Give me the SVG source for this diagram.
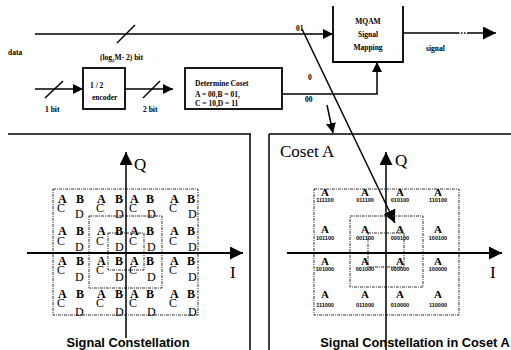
<svg xmlns="http://www.w3.org/2000/svg" width="511" height="350" viewBox="0 0 511 350">
<defs>
<marker id="ah" viewBox="0 0 10 10" refX="10" refY="5" markerWidth="10" markerHeight="10" markerUnits="userSpaceOnUse" orient="auto"><path d="M0,0 L10,5 L0,10 z" fill="#000"/></marker>
<marker id="ahb" viewBox="0 0 10 10" refX="10" refY="5" markerWidth="13" markerHeight="13" markerUnits="userSpaceOnUse" orient="auto"><path d="M0,0 L10,5 L0,10 z" fill="#000"/></marker>
<style>
.ln{stroke:#000;stroke-width:1.5;fill:none}
.thk{stroke:#000;stroke-width:2.2;fill:none}
.box{stroke:#000;stroke-width:1.8;fill:#fff}
.dash{stroke:#333;stroke-width:1;fill:none;stroke-dasharray:3 1 1 1}
.t{font-family:"Liberation Serif",serif;font-weight:bold;font-size:7.5px;fill:#000}
.tc{font-family:"Liberation Serif",serif;font-weight:bold;font-size:7.5px;fill:#000;text-anchor:middle}
.ab{font-family:"Liberation Serif",serif;font-weight:bold;font-size:12px;fill:#000}
.cd{font-family:"Liberation Serif",serif;font-size:12px;fill:#000}
.aa{font-family:"Liberation Serif",serif;font-weight:bold;font-size:11px;fill:#000;text-anchor:middle}
.code{font-family:"Liberation Sans",sans-serif;font-weight:bold;font-size:5.5px;fill:#000;text-anchor:middle}
.ax{font-family:"Liberation Serif",serif;font-size:17px;fill:#000}
.ttl{font-family:"Liberation Sans",sans-serif;font-weight:bold;font-size:12.8px;fill:#000;text-anchor:middle}
</style>
</defs>

<g id="connectors">
<line class="ln" x1="35" y1="34" x2="333" y2="34" marker-end="url(#ah)"/>
<line class="ln" x1="117" y1="43" x2="135" y2="25"/>
<line class="ln" x1="35" y1="89" x2="83" y2="89" marker-end="url(#ah)"/>
<line class="ln" x1="45" y1="98" x2="63" y2="81"/>
<line class="ln" x1="125" y1="89" x2="173" y2="89" marker-end="url(#ah)"/>
<line class="ln" x1="143" y1="98" x2="160" y2="81"/>
<polyline class="ln" points="282,94 377,94 377,62" marker-end="url(#ah)"/>
<line class="ln" x1="403" y1="33" x2="458" y2="33"/>
<line class="ln" x1="458" y1="33" x2="468" y2="33" stroke-dasharray="1.5 1.5"/>
<line class="ln" x1="468" y1="33" x2="496" y2="33" marker-end="url(#ahb)"/>
<line class="ln" x1="302" y1="29" x2="395" y2="223" marker-end="url(#ahb)"/>
<line class="ln" x1="327" y1="105" x2="333" y2="133" marker-end="url(#ah)"/>
</g>

<g id="labels-top">
<text class="t" x="8" y="55">data</text>
<text class="t" x="100" y="60">(log<tspan font-size="5" dy="2">2</tspan><tspan dy="-2">M- 2) bit</tspan></text>
<text class="t" x="45" y="112">1 bit</text>
<text class="t" x="143" y="112">2 bit</text>
<text class="t" x="296" y="31">01</text>
<text class="t" x="308" y="80" font-size="6">0</text>
<text class="t" x="305" y="102">00</text>
<text class="t" x="426" y="51">signal</text>
</g>

<g id="node-encoder">
<rect class="box" x="83" y="68" width="42" height="41"/>
<text class="t" x="90" y="88" font-size="8.5px">1 / 2</text>
<text class="t" x="92" y="100">encoder</text>
</g>

<g id="node-coset">
<rect class="box" x="185" y="68" width="97" height="41"/>
<text class="t" x="195" y="86" font-size="6.5px">Determine Coset</text>
<text class="t" x="195" y="97" font-size="6.5px">A = 00,B = 01,</text>
<text class="t" x="195" y="106" font-size="6.5px">C = 10,D = 11</text>
</g>

<g id="node-mqam">
<path class="box" d="M333,6 L333,62 L403,62 L403,6"/>
<text class="tc" x="368" y="24">MQAM</text>
<text class="tc" x="368" y="37">Signal</text>
<text class="tc" x="368" y="50">Mapping</text>
</g>

<g id="panel-left">
<line class="ln" x1="8" y1="134" x2="251" y2="134"/>
<line class="ln" x1="250" y1="134" x2="250" y2="350"/>
<rect class="dash" x="53" y="189" width="145" height="126"/>
<rect class="dash" x="89" y="216" width="73" height="72"/>
<rect class="dash" x="108" y="233" width="36" height="37"/>
<line class="ln" x1="126" y1="338" x2="126" y2="152" marker-end="url(#ahb)"/>
<line class="thk" x1="27" y1="253" x2="243" y2="253" marker-end="url(#ahb)"/>
<text class="ax" x="134" y="170">Q</text>
<text class="ax" x="230" y="278">I</text>
<g>
<text class="ab" x="58" y="203">A</text><text class="ab" x="76" y="203">B</text><text class="ab" x="97" y="203">A</text><text class="ab" x="115" y="203">B</text><text class="ab" x="130" y="203">A</text><text class="ab" x="146" y="203">B</text><text class="ab" x="170" y="203">A</text><text class="ab" x="187" y="203">B</text>
<text class="cd" x="57" y="212">C</text><text class="cd" x="75" y="218">D</text><text class="cd" x="96" y="212">C</text><text class="cd" x="115" y="218">D</text><text class="cd" x="129" y="212">C</text><text class="cd" x="147" y="218">D</text><text class="cd" x="169" y="212">C</text><text class="cd" x="188" y="218">D</text>
<text class="ab" x="58" y="235">A</text><text class="ab" x="76" y="235">B</text><text class="ab" x="97" y="235">A</text><text class="ab" x="115" y="235">B</text><text class="ab" x="130" y="235">A</text><text class="ab" x="146" y="235">B</text><text class="ab" x="170" y="235">A</text><text class="ab" x="187" y="235">B</text>
<text class="cd" x="57" y="245">C</text><text class="cd" x="75" y="251">D</text><text class="cd" x="96" y="245">C</text><text class="cd" x="115" y="251">D</text><text class="cd" x="129" y="245">C</text><text class="cd" x="147" y="251">D</text><text class="cd" x="169" y="245">C</text><text class="cd" x="188" y="251">D</text>
<text class="ab" x="58" y="265">A</text><text class="ab" x="76" y="265">B</text><text class="ab" x="97" y="265">A</text><text class="ab" x="115" y="265">B</text><text class="ab" x="130" y="265">A</text><text class="ab" x="146" y="265">B</text><text class="ab" x="170" y="265">A</text><text class="ab" x="187" y="265">B</text>
<text class="cd" x="57" y="274">C</text><text class="cd" x="75" y="281">D</text><text class="cd" x="96" y="274">C</text><text class="cd" x="115" y="281">D</text><text class="cd" x="129" y="274">C</text><text class="cd" x="147" y="281">D</text><text class="cd" x="169" y="274">C</text><text class="cd" x="188" y="281">D</text>
<text class="ab" x="58" y="298">A</text><text class="ab" x="76" y="298">B</text><text class="ab" x="97" y="298">A</text><text class="ab" x="115" y="298">B</text><text class="ab" x="130" y="298">A</text><text class="ab" x="146" y="298">B</text><text class="ab" x="170" y="298">A</text><text class="ab" x="187" y="298">B</text>
<text class="cd" x="57" y="307">C</text><text class="cd" x="75" y="316">D</text><text class="cd" x="96" y="307">C</text><text class="cd" x="115" y="316">D</text><text class="cd" x="129" y="307">C</text><text class="cd" x="147" y="316">D</text><text class="cd" x="169" y="307">C</text><text class="cd" x="188" y="316">D</text>
</g>
<text class="ttl" x="128" y="347">Signal Constellation</text>
</g>

<g id="panel-right">
<line class="ln" x1="269" y1="134" x2="511" y2="134"/>
<line class="ln" x1="269" y1="134" x2="269" y2="350"/>
<rect class="dash" x="314" y="189" width="145" height="126"/>
<rect class="dash" x="350" y="216" width="73" height="71"/>
<rect class="dash" x="368" y="233" width="36" height="34"/>
<line class="ln" x1="386" y1="350" x2="386" y2="152" marker-end="url(#ahb)"/>
<line class="thk" x1="287" y1="253" x2="502" y2="253" marker-end="url(#ahb)"/>
<text class="ax" x="280" y="157">Coset A</text>
<text class="ax" x="395" y="166">Q</text>
<text class="ax" x="490" y="278">I</text>
<g>
<text class="aa" x="325" y="196">A</text><text class="aa" x="365" y="196">A</text><text class="aa" x="400" y="196">A</text><text class="aa" x="438" y="196">A</text>
<text class="code" x="325" y="202">111100</text><text class="code" x="365" y="202">011100</text><text class="code" x="400" y="202">010100</text><text class="code" x="438" y="202">110100</text>
<text class="aa" x="325" y="233">A</text><text class="aa" x="365" y="233">A</text><text class="aa" x="400" y="233">A</text><text class="aa" x="438" y="233">A</text>
<text class="code" x="325" y="240">101100</text><text class="code" x="365" y="240">001100</text><text class="code" x="400" y="240">000100</text><text class="code" x="438" y="240">100100</text>
<text class="aa" x="325" y="265">A</text><text class="aa" x="365" y="265">A</text><text class="aa" x="400" y="265">A</text><text class="aa" x="438" y="265">A</text>
<text class="code" x="325" y="271">101000</text><text class="code" x="365" y="271">001000</text><text class="code" x="400" y="271">000000</text><text class="code" x="438" y="271">100000</text>
<text class="aa" x="325" y="298">A</text><text class="aa" x="365" y="298">A</text><text class="aa" x="400" y="298">A</text><text class="aa" x="438" y="298">A</text>
<text class="code" x="325" y="307">111000</text><text class="code" x="365" y="307">011000</text><text class="code" x="400" y="307">010000</text><text class="code" x="438" y="307">110000</text>
</g>
<text class="ttl" x="415" y="347">Signal Constellation in Coset A</text>
</g>
</svg>
